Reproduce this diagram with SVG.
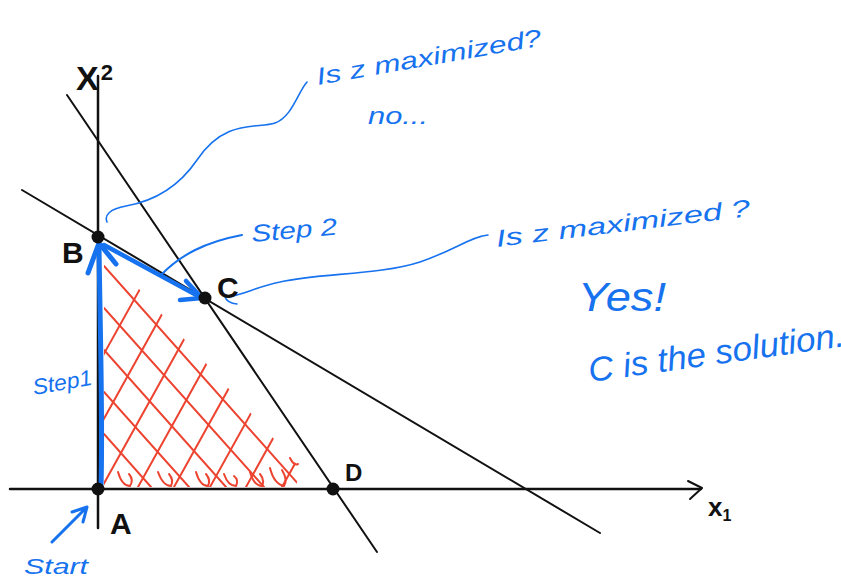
<svg xmlns="http://www.w3.org/2000/svg" width="841" height="579" viewBox="0 0 841 579">
<style>
.ink{fill:none;stroke:#111;stroke-width:2;stroke-linecap:round;stroke-linejoin:round}
.axis{stroke-width:2.5}
.blue{fill:none;stroke:#1672ee;stroke-linecap:round;stroke-linejoin:round}
.hatch{fill:none;stroke:#ec4430;stroke-width:2;stroke-linecap:round}
.bt{font-family:"Liberation Sans","DejaVu Sans",sans-serif;fill:#1672ee;font-style:italic}
.kt{font-family:"Liberation Sans","DejaVu Sans",sans-serif;fill:#111;font-weight:bold}
.dot{fill:#111}
</style>
<defs>
<clipPath id="region"><path d="M104,250 L300,468 L296,487 L104,487 Z"/></clipPath>
</defs>
<rect width="841" height="579" fill="#fff"/>

<g id="hatching">
<g clip-path="url(#region)" class="hatch">
<path d="M104,266 L301,487"/><path d="M104,308 L264,487"/><path d="M104,350 L226,487"/><path d="M104,392 L189,487"/><path d="M104,434 L151,487"/>
<path d="M30,487 L180,217"/><path d="M66,487 L216,217"/><path d="M102,487 L252,217"/><path d="M138,487 L288,217"/><path d="M174,487 L324,217"/><path d="M210,487 L360,217"/><path d="M246,487 L396,217"/><path d="M282,487 L432,217"/>
</g>
<g class="hatch">
<path d="M118,472 Q122,486 130,486 Q134,480 129,474"/>
<path d="M158,472 Q163,486 171,486 Q174,480 169,474"/>
<path d="M196,472 Q200,486 208,486 Q211,480 206,474"/>
<path d="M224,474 Q228,486 236,486 Q239,480 234,476"/>
<path d="M250,472 Q254,486 262,486 Q265,480 260,474"/>
<path d="M270,468 Q274,484 284,486 Q288,480 282,470"/>
<path d="M290,458 Q294,466 298,464"/>
</g>
</g>

<g id="connectors">
<line class="ink axis" x1="10" y1="489" x2="701" y2="489"/>
<path class="ink" stroke-width="3" d="M688,481 L702,488 L690,499"/>
<line class="ink axis" x1="98" y1="528" x2="98" y2="76"/>
<line class="ink" x1="67" y1="95" x2="377" y2="552"/>
<line class="ink" x1="22" y1="190" x2="600" y2="533"/>

<path class="blue" stroke-width="5" d="M101,487 C103,420 100,330 99,245"/>
<path class="blue" stroke-width="5" d="M88,273 L99,243 L116,264"/>
<path class="blue" stroke-width="4.5" d="M104,245 L200,297"/>
<path class="blue" stroke-width="4.5" d="M180,300 L202,298 L186,281"/>
<path class="blue" stroke-width="2" d="M242,235 C205,242 180,255 160,276"/>
<path class="blue" stroke-width="3" d="M52,542 L87,507 M72,512 L87,507 L83,522"/>
<path class="blue" stroke-width="1.6" d="M307,82 C298,92 292,117 275,123 C258,129 225,118 197,160 C182,182 160,200 126,206 C110,209 104,215 107,222"/>
<path class="blue" stroke-width="1.6" d="M488,235 C470,237 455,250 420,262 C380,275 320,273 280,282 C255,287 242,296 225,297 Q227,303 237,304"/>
</g>

<g id="node-A">
<circle class="dot" cx="98" cy="489" r="6.5"/>
<text class="kt" x="110" y="534" font-size="30">A</text>
</g>
<g id="node-B">
<circle class="dot" cx="98" cy="237" r="6.5"/>
<text class="kt" x="62" y="263" font-size="30">B</text>
</g>
<g id="node-C">
<circle class="dot" cx="205" cy="298" r="6.5"/>
<text class="kt" x="217" y="298" font-size="30">C</text>
</g>
<g id="node-D">
<circle class="dot" cx="333" cy="489" r="6.5"/>
<text class="kt" x="345" y="481" font-size="24">D</text>
</g>
<g id="axis-labels">
<text class="kt" x="76" y="90" font-size="34">X<tspan font-size="22" dx="2" dy="-10">2</tspan></text>
<text class="kt" x="708" y="516" font-size="26">x<tspan font-size="16" dy="5">1</tspan></text>
</g>

<g id="note-B">
<text class="bt" font-size="24" transform="translate(318,85) rotate(-10)" textLength="228" lengthAdjust="spacingAndGlyphs">Is z maximized?</text>
<text class="bt" font-size="24" x="368" y="124" textLength="60" lengthAdjust="spacingAndGlyphs">no...</text>
</g>
<g id="note-step2">
<text class="bt" font-size="24" transform="translate(252,242) rotate(-5)" textLength="86" lengthAdjust="spacingAndGlyphs">Step 2</text>
</g>
<g id="note-C">
<text class="bt" font-size="24" transform="translate(497,247) rotate(-7)" textLength="256" lengthAdjust="spacingAndGlyphs">Is z maximized ?</text>
<text class="bt" font-size="40" x="578" y="311" textLength="88" lengthAdjust="spacingAndGlyphs">Yes!</text>
<text class="bt" font-size="34" transform="translate(590,382) rotate(-8)" textLength="258" lengthAdjust="spacingAndGlyphs">C is the solution.</text>
</g>
<g id="note-step1">
<text class="bt" font-size="22" transform="translate(34,395) rotate(-10)" textLength="60" lengthAdjust="spacingAndGlyphs">Step1</text>
</g>
<g id="note-start">
<text class="bt" font-size="22" x="24" y="574" textLength="64" lengthAdjust="spacingAndGlyphs">Start</text>
</g>
</svg>
